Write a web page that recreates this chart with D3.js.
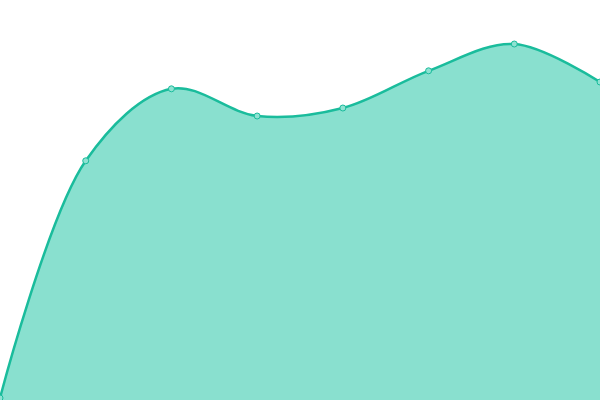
<!DOCTYPE html>
<html><head><meta charset="utf-8">
<script src="https://cdn.jsdelivr.net/npm/d3@7"></script>
<style>html,body{margin:0;padding:0;background:#fff;}svg{display:block;}</style>
</head><body>
<svg id="c" width="600" height="400"></svg>
<script>
const categories = ["1","2","3","4","5","6","7","8"];
const values = [0.5, 59.8, 77.8, 71.0, 73.0, 82.3, 89.0, 79.5];

const W = 600, H = 400;
const svg = d3.select("#c");
const x = d3.scalePoint().domain(categories).range([0, W]);
const y = d3.scaleLinear().domain([0, 100]).range([H, 0]);
const data = categories.map((c, i) => ({c, v: values[i]}));

const curve = d3.curveCatmullRom.alpha(0.5);
svg.append("path").datum(data)
  .attr("fill", "#89e0cf")
  .attr("d", d3.area().x(d => x(d.c)).y0(H).y1(d => y(d.v)).curve(curve));
svg.append("path").datum(data)
  .attr("fill", "none").attr("stroke", "#1abc9c").attr("stroke-width", 2.5)
  .attr("d", d3.line().x(d => x(d.c)).y(d => y(d.v)).curve(curve));
svg.selectAll("circle").data(data).join("circle")
  .attr("cx", d => x(d.c)).attr("cy", d => y(d.v)).attr("r", 3)
  .attr("fill", "#8fe2d2").attr("stroke", "#1abc9c").attr("stroke-width", 1);
</script>
</body></html>
